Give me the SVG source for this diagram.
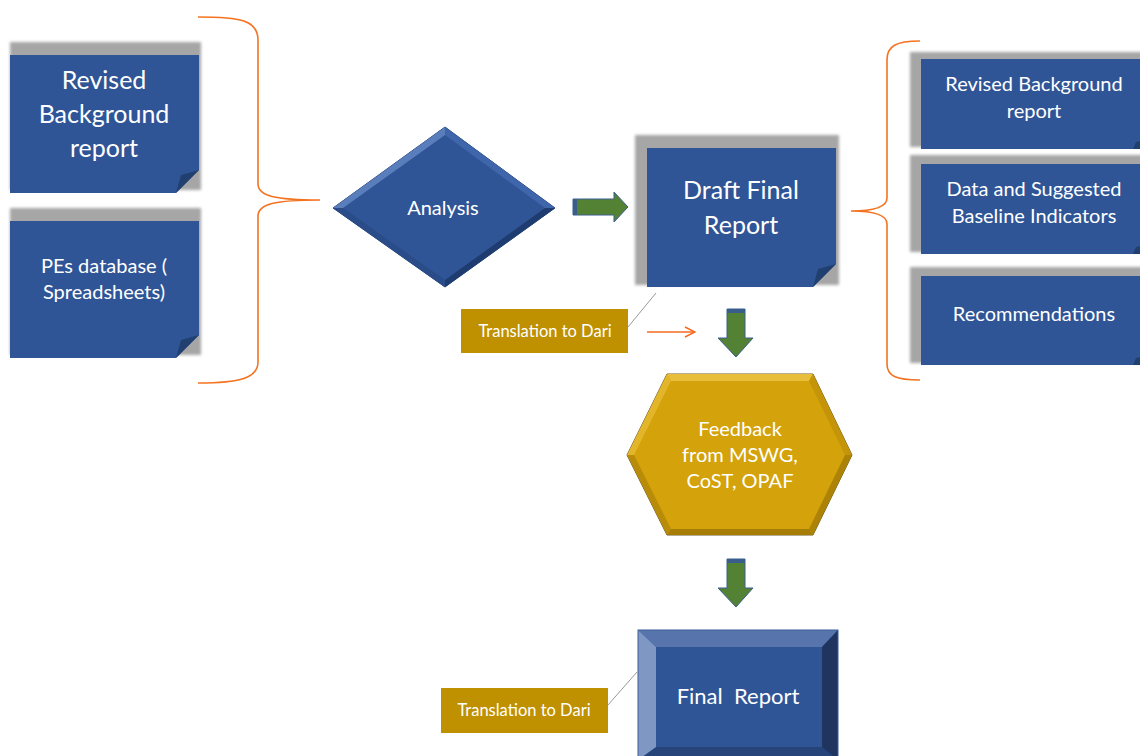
<svg xmlns="http://www.w3.org/2000/svg" width="1140" height="756" viewBox="0 0 1140 756">
  <defs>
    <filter id="soft" x="-10%" y="-10%" width="120%" height="120%">
      <feGaussianBlur stdDeviation="1.6"/>
    </filter>
    <marker id="openArrow" viewBox="0 0 12 12" refX="11" refY="6" markerWidth="12" markerHeight="12" markerUnits="userSpaceOnUse" orient="auto">
      <path d="M1,1 L11,6 L1,11" fill="none" stroke="#F46B1E" stroke-width="1.4"/>
    </marker>
  </defs>
  <style>
    .shadow { fill: #A6A6A6; filter: url(#soft); }
    .note { fill: #2F5597; }
    .fold { fill: #22406F; }
    .brace { fill: none; stroke: #F47320; stroke-width: 1.6; }
    .lbl { font-family: Lato, "Open Sans", sans-serif; fill: #FFFFFF; text-anchor: middle; }
    .tag { fill: #BF9000; }
    .lead { stroke: #9A9A9A; stroke-width: 1; fill: none; }
    .garrow { fill: #548235; stroke: #3A5E8C; stroke-width: 1; }
  </style>
  <rect width="1140" height="756" fill="#FFFFFF"/>

  <!-- left input notes -->
  <g id="node-revised-left">
    <rect class="shadow" x="10" y="42" width="191" height="148"/>
    <path class="note" d="M10,55 H199 V170 L176,193 H10 Z"/>
    <path class="fold" d="M176,193 L181,175 L199,170 Z"/>
    <text class="lbl" font-size="25"><tspan x="104" y="89">Revised</tspan><tspan x="104" y="123">Background</tspan><tspan x="104" y="157">report</tspan></text>
  </g>
  <g id="node-pes-database">
    <rect class="shadow" x="10" y="208" width="191" height="147"/>
    <path class="note" d="M10,221 H199 V335 L176,358 H10 Z"/>
    <path class="fold" d="M176,358 L181,340 L199,335 Z"/>
    <text class="lbl" font-size="20"><tspan x="104" y="273">PEs database (</tspan><tspan x="104" y="299">Spreadsheets)</tspan></text>
  </g>

  <!-- analysis decision -->
  <g id="node-analysis">
    <path d="M333,208 L445,127 L555,208 L445,287 Z" fill="#2F5597" stroke="#24447C" stroke-width="1"/>
    <path d="M333,208 L445,127 L445,135 L343,208 Z" fill="#5A7DBB"/>
    <path d="M445,127 L555,208 L545,208 L445,135 Z" fill="#3F66AA"/>
    <path d="M555,208 L445,287 L445,280 L545,208 Z" fill="#1E3C70"/>
    <path d="M445,287 L333,208 L343,208 L445,280 Z" fill="#2A4C88"/>
    <text class="lbl" x="443" y="215" font-size="20">Analysis</text>
  </g>

  <!-- draft final report -->
  <g id="node-draft-final">
    <rect class="shadow" x="635" y="135" width="204" height="150"/>
    <path class="note" d="M647,148 H836 V264 L813,287 H647 Z"/>
    <path class="fold" d="M813,287 L818,269 L836,264 Z"/>
    <text class="lbl" font-size="25"><tspan x="741" y="199">Draft Final</tspan><tspan x="741" y="234">Report</tspan></text>
  </g>

  <!-- right output notes -->
  <g id="node-revised-right">
    <rect class="shadow" x="910" y="52" width="240" height="95"/>
    <path class="note" d="M921,59 H1140 V149 H921 Z"/>
    <path class="fold" d="M1133,149 L1136,142 L1140,141 V149 Z"/>
    <text class="lbl" font-size="20"><tspan x="1034" y="91">Revised Background</tspan><tspan x="1034" y="118">report</tspan></text>
  </g>
  <g id="node-baseline">
    <rect class="shadow" x="910" y="155" width="240" height="97"/>
    <path class="note" d="M921,164 H1140 V254 H921 Z"/>
    <path class="fold" d="M1133,254 L1136,247 L1140,246 V254 Z"/>
    <text class="lbl" font-size="20"><tspan x="1034" y="196">Data and Suggested</tspan><tspan x="1034" y="223">Baseline Indicators</tspan></text>
  </g>
  <g id="node-recommendations">
    <rect class="shadow" x="910" y="267" width="240" height="96"/>
    <path class="note" d="M921,276 H1140 V365 H921 Z"/>
    <path class="fold" d="M1133,365 L1136,358 L1140,357 V365 Z"/>
    <text class="lbl" x="1034" y="321" font-size="20">Recommendations</text>
  </g>

  <!-- feedback hexagon -->
  <g id="node-feedback">
    <path d="M667,374 H813 L852,455 L813,535 H667 L627,455 Z" fill="#D4A20B" stroke="#6A5A2A" stroke-width="1"/>
    <path d="M667,374 H813 L809,381 H671 Z" fill="#E8BE3A"/>
    <path d="M667,374 L671,381 L634,455 L627,455 Z" fill="#E2B52A"/>
    <path d="M627,455 L634,455 L671,529 L667,535 Z" fill="#B88C08"/>
    <path d="M667,535 L671,529 H809 L813,535 Z" fill="#A67D06"/>
    <path d="M813,535 L809,529 L845,455 L852,455 Z" fill="#AD8307"/>
    <path d="M852,455 L845,455 L809,381 L813,374 Z" fill="#C59509"/>
    <text class="lbl" font-size="20"><tspan x="740" y="436">Feedback</tspan><tspan x="740" y="462">from MSWG,</tspan><tspan x="740" y="488">CoST, OPAF</tspan></text>
  </g>

  <!-- final report bevelled box -->
  <g id="node-final-report">
    <rect x="638" y="630" width="200" height="130" fill="#2F5597"/>
    <path d="M638,630 H838 L822,647 H656 Z" fill="#5774AD"/>
    <path d="M638,630 L656,647 V760 H638 Z" fill="#7F97C3"/>
    <path d="M838,630 V760 H822 V647 Z" fill="#1F3560"/>
    <path d="M656,747 H822 L838,760 H638 Z" fill="#27447A"/>
    <rect x="638" y="630" width="200" height="130" fill="none" stroke="#3B5F9C" stroke-width="1"/>
    <text class="lbl" x="738" y="704" font-size="22" xml:space="preserve">Final  Report</text>
  </g>

  <!-- translation notes -->
  <g id="node-translation-1">
    <rect class="tag" x="461" y="309" width="167" height="44"/>
    <text class="lbl" x="545" y="337" font-size="16.5" fill="#FFF5DC">Translation to Dari</text>
  </g>
  <g id="node-translation-2">
    <rect class="tag" x="441" y="688" width="167" height="45"/>
    <text class="lbl" x="524" y="716" font-size="16.5">Translation to Dari</text>
  </g>

  <!-- connectors -->
  <g id="connectors">
    <path class="brace" d="M198,17 C240,17 258,20 258,40 V184 C258,196 275,200 320,200 C275,200 258,204 258,216 V362 C258,378 240,383 198,383"/>
    <path class="brace" d="M920,41 C896,41 887,46 887,60 V198 C887,207 875,211 851,211 C875,211 887,215 887,224 V364 C887,376 896,380 920,380"/>
    <path class="garrow" d="M573,199 H614 V192 L628,207 L614,222 V215 H573 Z"/>
    <rect x="573" y="199" width="4" height="16" fill="#3A5E8C"/>
    <path class="garrow" d="M727,309 H745 V338 H753 L736,357 L718,338 H727 Z"/>
    <rect x="727" y="309" width="18" height="4" fill="#3A5E8C"/>
    <path class="garrow" d="M727,559 H745 V588 H753 L736,607 L718,588 H727 Z"/>
    <rect x="727" y="559" width="18" height="4" fill="#3A5E8C"/>
    <line x1="647" y1="332" x2="695" y2="332" stroke="#F46B1E" stroke-width="1.4" marker-end="url(#openArrow)"/>
    <line class="lead" x1="628" y1="327" x2="656" y2="293"/>
    <line class="lead" x1="608" y1="705" x2="637" y2="672"/>
  </g>
</svg>
